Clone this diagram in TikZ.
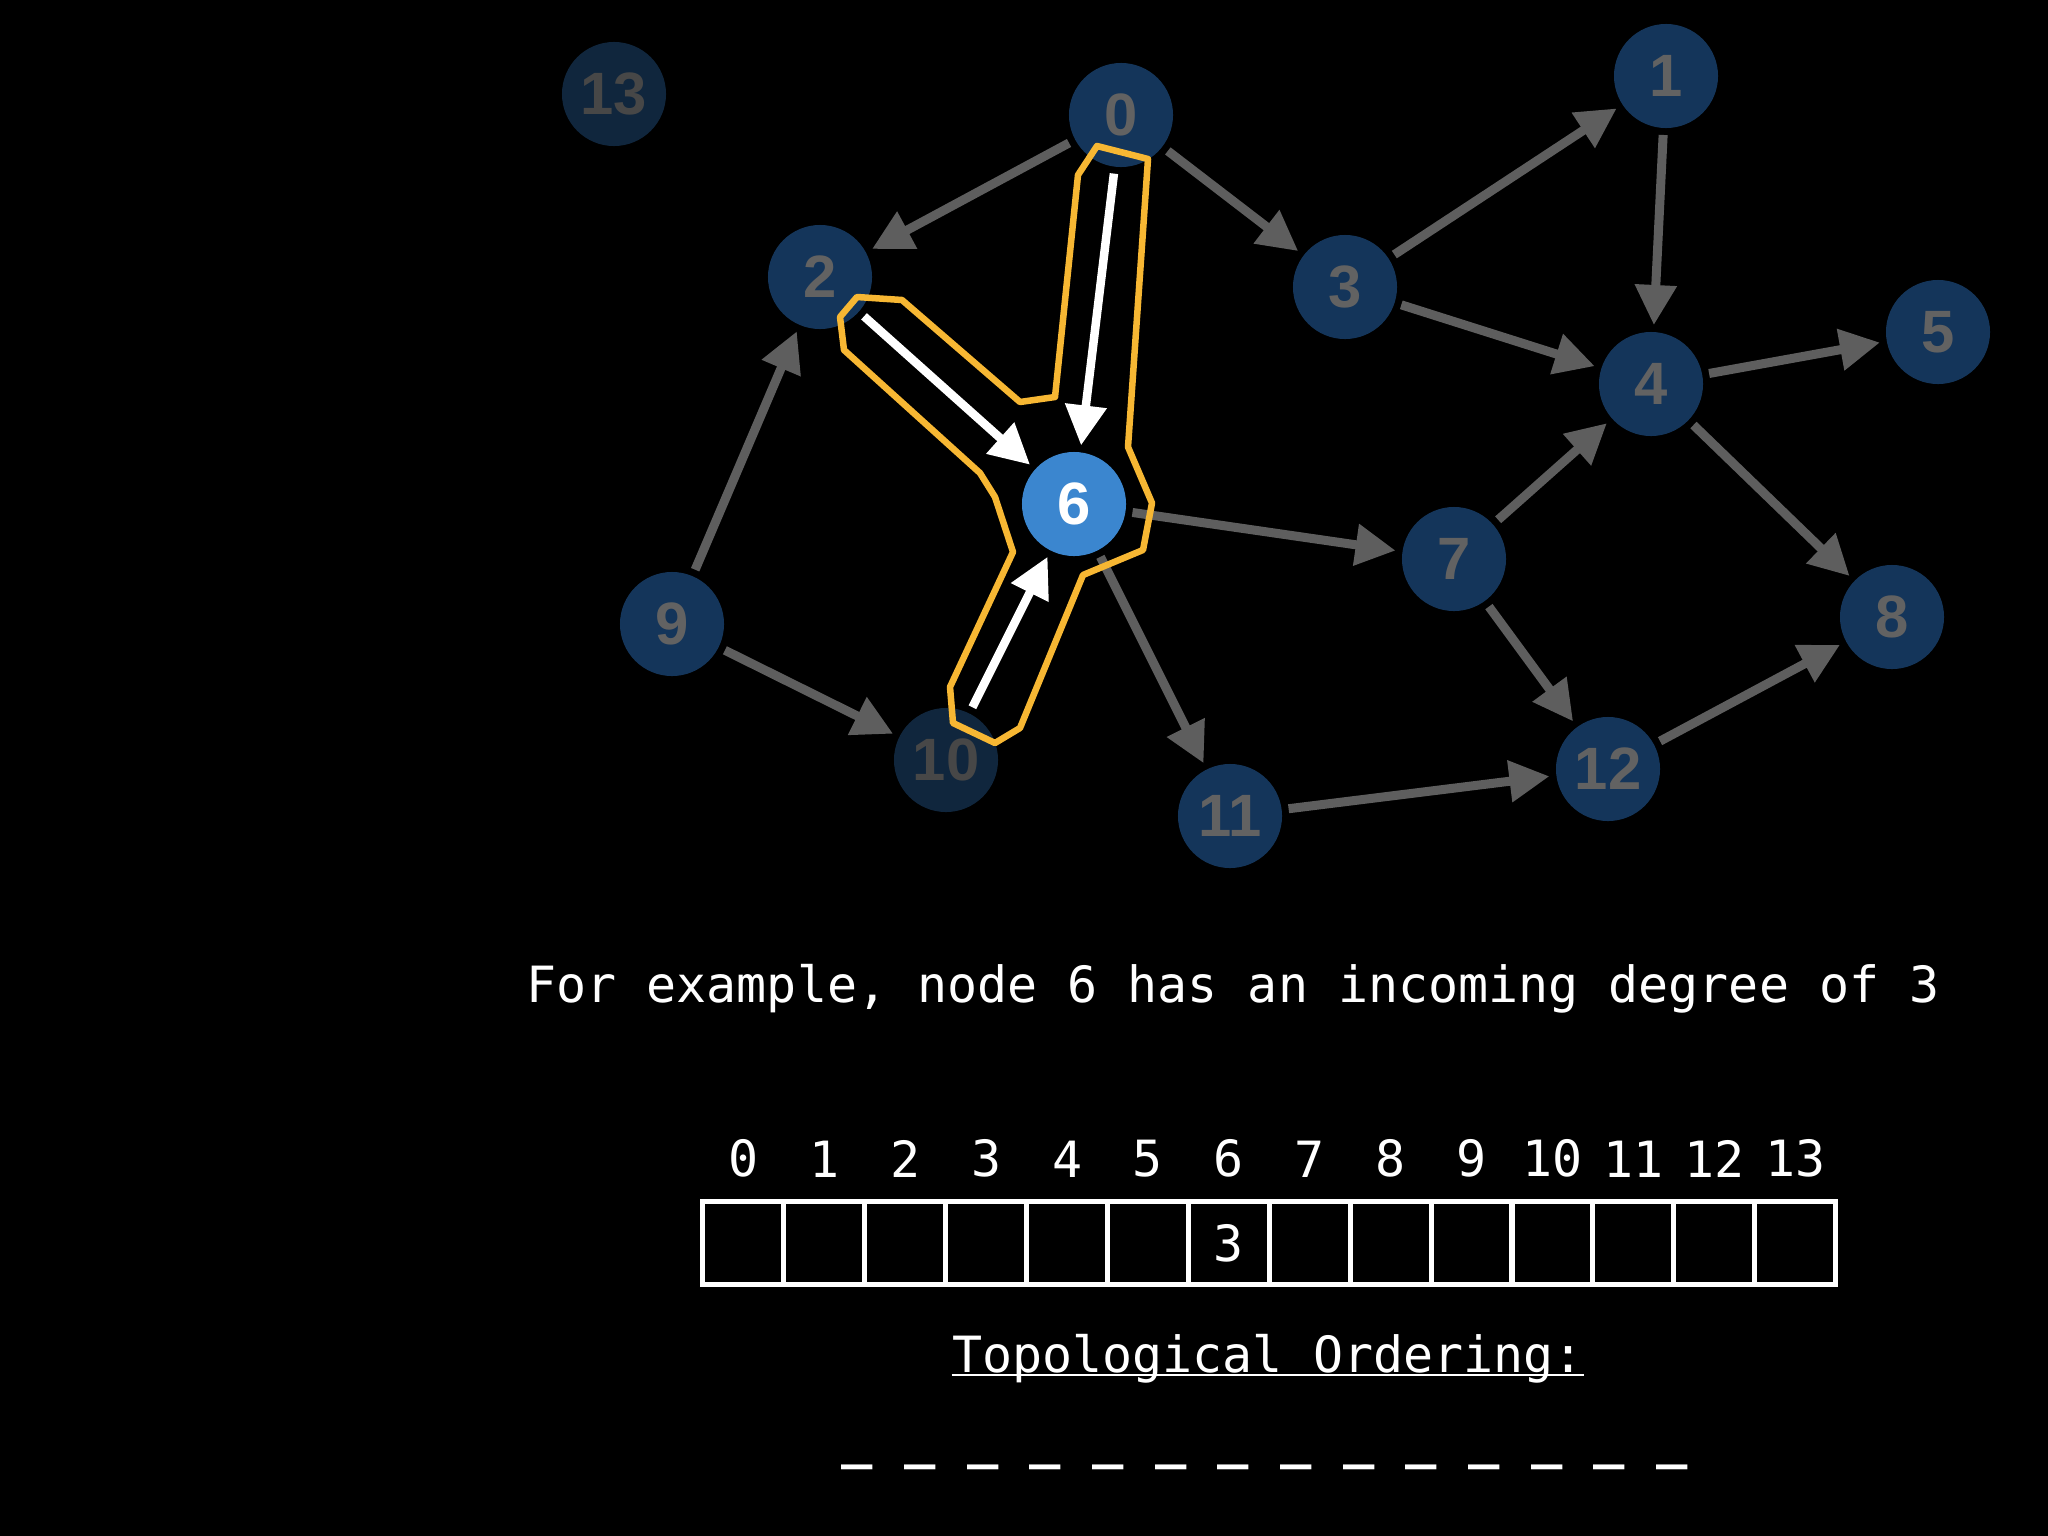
\documentclass[tikz,border=0pt]{standalone}
\usepackage{fontspec}
\setmonofont{DejaVu Sans Mono}
\newfontfamily\labfont{Liberation Sans}
\usepackage{xcolor}
\usetikzlibrary{arrows.meta,positioning}
\definecolor{nodeblue}{HTML}{14355A}
\definecolor{nodedim}{HTML}{10263D}
\definecolor{labgray}{HTML}{626262}
\definecolor{dimgray}{HTML}{474747}
\definecolor{edgegray}{HTML}{5E5E5E}
\definecolor{hiblue}{HTML}{3B86CF}
\definecolor{hiyellow}{HTML}{F7B733}

\begin{document}
\begin{tikzpicture}[x=0.01cm,y=-0.01cm,>={Triangle[length=0.4cm,width=0.4cm]},
  vert/.style={circle,fill=nodeblue,minimum size=1.04cm,inner sep=0pt,outer sep=0.07cm,
    text=labgray,font=\labfont\bfseries\fontsize{17}{17}\selectfont},
  dimvert/.style={vert,fill=nodedim,text=dimgray},
  hivert/.style={vert,fill=hiblue,text=white},
  edge/.style={->,draw=edgegray,line width=0.09cm},
  inc/.style={->,draw=white,line width=0.085cm},
  cell/.style={draw=white,line width=0.05cm,minimum width=0.809cm,minimum height=0.82cm,
    inner sep=0pt,outer sep=0pt,text=white,font=\ttfamily\fontsize{14.2}{17}\selectfont},
  txt/.style={text=white,inner sep=0pt,font=\ttfamily\fontsize{14.2}{17}\selectfont}]
\fill[black] (0,0) rectangle (2048,1536);
\useasboundingbox (0,0) rectangle (2048,1536);

% graph
\node[dimvert] (n13) at (614,94) {13};
\node[vert] (n0) at (1121,115) {0};
\node[vert] (n1) at (1666,76) {1};
\node[vert] (n2) at (820,277) {2};
\node[vert] (n3) at (1345,287) {3};
\node[vert] (n4) at (1651,384) {4};
\node[vert] (n5) at (1938,332) {5};
\node[hivert] (n6) at (1074,504) {6};
\node[vert] (n7) at (1454,559) {7};
\node[vert] (n8) at (1892,617) {8};
\node[vert] (n9) at (672,624) {9};
\node[dimvert] (n10) at (946,760) {10};
\node[vert] (n11) at (1230,816) {11};
\node[vert] (n12) at (1608,769) {12};

\draw[edge] (n0) -- (n2);
\draw[edge] (n0) -- (n3);
\draw[edge] (n3) -- (n1);
\draw[edge] (n1) -- (n4);
\draw[edge] (n3) -- (n4);
\draw[edge] (n4) -- (n5);
\draw[edge] (n4) -- (n8);
\draw[edge] (n9) -- (n2);
\draw[edge] (n9) -- (n10);
\draw[edge] (n6) -- (n7);
\draw[edge] (n6) -- (n11);
\draw[edge] (n7) -- (n4);
\draw[edge] (n7) -- (n12);
\draw[edge] (n11) -- (n12);
\draw[edge] (n12) -- (n8);

% incoming edges of 6
\draw[hiyellow,line width=0.065cm,line join=round]
  (1097,146) -- (1148,159) -- (1128,447) -- (1152,503) -- (1143,550) -- (1083,575)
  -- (1020,728) -- (995,743) -- (953,723) -- (950,687) -- (1013,552) -- (995,497)
  -- (980,473) -- (844,350) -- (840,317) -- (857,297) -- (902,300) -- (1020,402)
  -- (1055,397) -- (1078,175) -- cycle;
\draw[inc] (n0) -- (n6);
\draw[inc] (n2) -- (n6);
\draw[inc] (n10) -- (n6);

% in-degree table
\node[txt,anchor=base] (caption) at (1233,1002) {For example, node 6 has an incoming degree of 3};
\foreach \i in {0,...,13} {
  \node[cell] (c\i) at (743.45+80.9*\i,1243) {};
  \node[txt,above=0.24cm of c\i] (l\i) {\i};
}
\node[txt] (val) at (c6) {3};

\node[txt,anchor=base] (topo) at (1268,1372) {Topological Ordering:};
\draw[white,line width=0.025cm] ([yshift=-0.03cm]topo.base west) -- ([yshift=-0.03cm]topo.base east);
\node[txt,anchor=base,font=\ttfamily\bfseries\fontsize{14.8}{17}\selectfont] (blanks) at (1265,1457)
  {\_ \_ \_ \_ \_ \_ \_ \_ \_ \_ \_ \_ \_ \_};
\end{tikzpicture}
\end{document}
